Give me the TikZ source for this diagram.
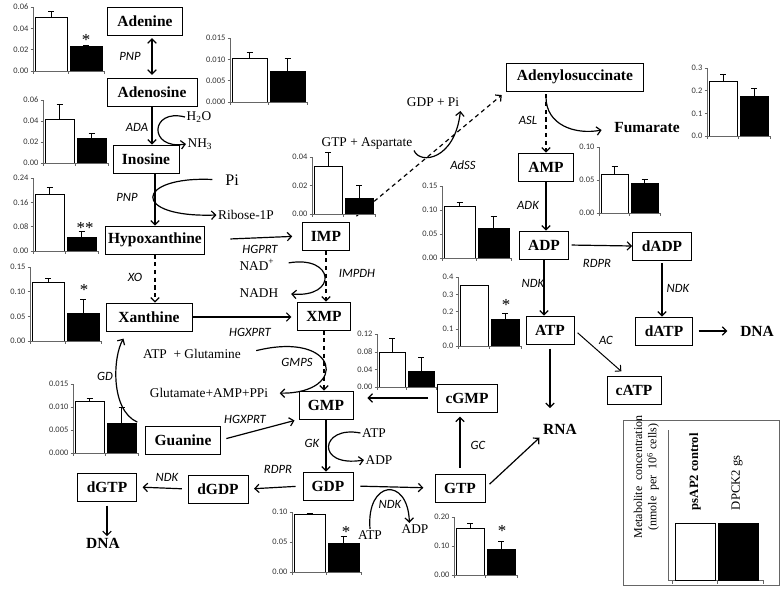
\documentclass[tikz,border=0pt]{standalone}
\usepackage{fontspec}
\setmainfont{Liberation Serif}
\newfontfamily\calfont{Carlito}
\usetikzlibrary{arrows.meta}
\tikzset{
  met/.style={draw, line width=0.6pt, font=\fontsize{11}{12}\selectfont\bfseries,
              minimum height=0.7cm, inner xsep=2pt, inner ysep=0pt},
  wd/.style={minimum width=#1*0.025cm},
  fin/.style={font=\fontsize{11}{12}\selectfont\bfseries, inner sep=1pt},
  enz/.style={font=\calfont\itshape\fontsize{9}{10}\selectfont, inner sep=1pt},
  sub/.style={font=\fontsize{9.5}{11}\selectfont, inner sep=1pt},
  rx/.style={->, line width=0.85pt},
  dashrx/.style={rx, dash pattern=on 3pt off 2.5pt},
  axlab/.style={font=\calfont\fontsize{6}{7}\selectfont, inner sep=1pt, text=black!80},
  sig/.style={font=\fontsize{12}{12}\selectfont, inner sep=0pt},
}
% #1,#2 origin, #3 px per tick, #4 tick labels, #5 bar width,
% #6/#7 white bar and error, #8/#9 black bar and error (in ticks)
\newcommand{\barchart}[9]{%
  \begin{scope}[shift={(#1,#2)}, line width=0.4pt]
    \foreach \lab [count=\i from 0] in {#4}{
      \draw[black!60] (0,0) -- (0,-\i*#3);
      \draw[black!60] (-2.5,-\i*#3) -- (0,-\i*#3);
      \node[axlab, anchor=east] at (-3,-\i*#3) {\lab};
    }
    \draw[fill=white] (2,0) rectangle (2+#5,-#6*#3);
    \draw (2+#5/2,-#6*#3) -- (2+#5/2,-#7*#3) (2+#5/2-3,-#7*#3) -- (2+#5/2+3,-#7*#3);
    \draw[fill=black] (5+#5,0) rectangle (5+2*#5,-#8*#3);
    \draw (5+1.5*#5,-#8*#3) -- (5+1.5*#5,-#9*#3) (5+1.5*#5-3,-#9*#3) -- (5+1.5*#5+3,-#9*#3);
    \draw[black!60] (0,0) -- (7+2*#5,0);
    \foreach \t in {0,3.5+#5,7+2*#5} \draw[black!60] (\t,0) -- (\t,2.5);
  \end{scope}}
\begin{document}
\begin{tikzpicture}[x=0.025cm,y=-0.025cm,>={Straight Barb[length=3pt,width=6pt]}]
\useasboundingbox (0,0) rectangle (784,592);

% metabolites
\node[met, wd=75] (ade) at (145,21) {Adenine};
\node[met, wd=90] (ados) at (152,92) {Adenosine};
\node[met, wd=66] (ino) at (146,159) {Inosine};
\node[met, wd=97] (hyp) at (155,240) {Hypoxanthine};
\node[met, wd=86] (xan) at (149,317) {Xanthine};
\node[met, wd=75] (gua) at (183,440) {Guanine};
\node[met, wd=59] (dgtp) at (107,487) {dGTP};
\node[met, wd=60] (dgdp) at (218,489) {dGDP};
\node[met, wd=47] (imp) at (326,236) {IMP};
\node[met, wd=53] (xmp) at (324,316) {XMP};
\node[met, wd=54] (gmp) at (326,405) {GMP};
\node[met, wd=60] (cgmp) at (467,398) {cGMP};
\node[met, wd=50] (gdp) at (328,486) {GDP};
\node[met, wd=50] (gtp) at (460,488) {GTP};
\node[met, wd=137] (ads) at (575,77) {Adenylosuccinate};
\node[met, wd=55] (amp) at (546,167) {AMP};
\node[met, wd=49] (adp) at (544,245) {ADP};
\node[met, wd=59] (dadp) at (662,246) {dADP};
\node[met, wd=48] (atp) at (550,330) {ATP};
\node[met, wd=57] (datp) at (664,331) {dATP};
\node[met, wd=54] (catp) at (634,390) {cATP};
\node[fin] (rna) at (560,429) {RNA};
\node[fin] (dnal) at (103,543) {DNA};
\node[fin] (dnar) at (757,331) {DNA};
\node[fin] (fum) at (647,128) {Fumarate};

% co-substrates
\node[sub] (h2o) at (199,117) {H\textsubscript{2}O};
\node[sub] (nh3) at (200,144) {NH\textsubscript{3}};
\node[sub, font=\fontsize{11.5}{12}\selectfont] (pi) at (232,180) {Pi};
\node[sub] (rib) at (246,215) {Ribose-1P};
\node[sub] (nad) at (257,265) {NAD\textsuperscript{+}};
\node[sub] (nadh) at (259,293) {NADH};
\node[sub] (gln) at (192,354) {ATP~ + Glutamine};
\node[sub] (glu) at (209,393) {Glutamate+AMP+PPi};
\node[sub] (atpa) at (374,433) {ATP};
\node[sub] (adpa) at (379,460) {ADP};
\node[sub] (atpb) at (370,535) {ATP};
\node[sub] (adpb) at (415,529) {ADP};
\node[sub] (asp) at (367,143) {GTP + Aspartate};
\node[sub] (gdppi) at (433,102) {GDP + Pi};

% enzymes
\node[enz] at (130,56) {PNP};
\node[enz] at (137,127) {ADA};
\node[enz] at (127,197) {PNP};
\node[enz] at (135,277) {XO};
\node[enz] at (260,249) {HGPRT};
\node[enz] at (357,273) {IMPDH};
\node[enz] at (250,332) {HGXPRT};
\node[enz] at (297,362) {GMPS};
\node[enz] at (105,376) {GD};
\node[enz] at (245,419) {HGXPRT};
\node[enz] at (312,443) {GK};
\node[enz] at (278,469) {RDPR};
\node[enz] at (167,477) {NDK};
\node[enz] at (390,504) {NDK};
\node[enz] at (478,445) {GC};
\node[enz] at (463,165) {AdSS};
\node[enz] at (528,120) {ASL};
\node[enz] at (528,205) {ADK};
\node[enz] at (597,263) {RDPR};
\node[enz] at (533,283) {NDK};
\node[enz] at (678,288) {NDK};
\node[enz] at (606,340) {AC};

% main reactions
\draw[rx, <->, shorten <=2pt, shorten >=2pt] (ados.north |- ade.south) -- (ados.north);
\draw[rx] (ados.south) -- (ados.south |- ino.north);
\draw[rx] (hyp.north |- ino.south) -- (hyp.north);
\draw[rx, shorten <=18pt, shorten >=7pt] (hyp.east) -- (imp.west);
\draw[dashrx] (hyp.south) -- (hyp.south |- xan.north);
\draw[dashrx] (imp.south) -- (imp.south |- xmp.north);
\draw[rx, shorten >=4pt] (xan.east) -- (xmp.west |- xan.east);
\draw[dashrx] (xmp.south) -- (xmp.south |- gmp.north);
\draw[rx, shorten <=4pt, shorten >=3pt] (gua.east) -- (gmp.south west);
\draw[rx] (gmp.south) -- (gmp.south |- gdp.north);
\draw[rx, shorten <=5pt, shorten >=4pt] (gdp.west) -- (dgdp.east);
\draw[rx, shorten <=4pt, shorten >=4pt] (dgdp.west) -- (dgtp.east);
\draw[rx, shorten <=3pt] (dgtp.south) -- (dgtp.south |- dnal.north);
\draw[rx, shorten <=5pt, shorten >=8pt] (gdp.east) -- (gtp.west);
\draw[rx, shorten <=4pt, shorten >=3pt] (gtp.north) -- (gtp.north |- cgmp.south);
\draw[rx, shorten <=6pt, shorten >=10pt] (cgmp.west) -- (cgmp.west -| gmp.east);
\draw[rx, shorten <=4pt, shorten >=2pt] (gtp.east) -- (rna.south west);
\draw[dashrx, shorten <=6pt, shorten >=4pt] (imp.north east) -- (ads.south west);
\draw[dashrx, shorten <=2pt] (amp.north |- ads.south) -- (amp.north);
\draw[rx] (amp.south) -- (amp.south |- adp.north);
\draw[rx, shorten <=2pt] (adp.east) -- (dadp.west);
\draw[rx] (adp.south) -- (adp.south |- atp.north);
\draw[rx, shorten <=2pt] (dadp.south) -- (dadp.south |- datp.north);
\draw[rx, shorten <=4pt, shorten >=8pt] (datp.east) -- (dnar.west);
\draw[rx, line width=0.7pt, shorten <=3pt] (atp.east) -- ([xshift=-9pt,yshift=3pt]catp.north);
\draw[rx, shorten <=3pt, shorten >=10pt] (atp.south) -- (atp.south |- rna.north);

% side reactions
\draw[rx] (h2o.west) .. controls (150,108) and (148,150) .. (nh3.west);
\draw[rx, shorten <=8pt] (pi.west) .. controls (135,176) and (130,218) .. (rib.west);
\draw[rx, shorten <=9pt, shorten >=8pt] (nad.east) .. controls (335,255) and (338,298) .. (nadh.east);
\draw[rx, shorten <=10pt, shorten >=7pt] (gln.east) .. controls (340,330) and (349,394) .. (glu.east);
\draw[rx, shorten <=6pt, shorten >=6pt] (gua.north west) .. controls (110,410) and (113,356) .. ([xshift=-15pt]xan.south);
\draw[rx] (atpa.west) .. controls (320,425) and (315,468) .. (adpa.west);
\draw[rx] (atpb.north) .. controls (366,480) and (408,476) .. ([xshift=-4pt]adpb.north);
\draw[rx, shorten >=2pt] (asp.south east) .. controls (420,165) and (455,160) .. (gdppi.south east);
\draw[rx, shorten <=4pt, shorten >=8pt] (amp.north |- ads.south) .. controls (546,125) and (575,135) .. (fum.west);

% bar charts
\barchart{33}{71}{21.3}{0.00,0.02,0.04,0.06}{32}{2.53}{2.82}{1.17}{1.2}
\barchart{230}{102}{21.3}{0.000,0.005,0.010,0.015}{35}{2.07}{2.35}{1.46}{2.07}
\barchart{43}{163}{21}{0.00,0.02,0.04,0.06}{29}{2.1}{2.8}{1.19}{1.43}
\barchart{33}{251}{24.3}{0.00,0.08,0.16,0.24}{29}{2.35}{2.63}{0.58}{0.82}
\barchart{30}{341}{24.7}{0.00,0.05,0.10,0.15}{32}{2.39}{2.55}{1.13}{1.70}
\barchart{73}{453}{23}{0.000,0.005,0.010,0.015}{29}{2.26}{2.39}{1.3}{2.0}
\barchart{312}{214}{28.5}{0.00,0.02,0.04}{28}{1.68}{2.18}{0.56}{1.02}
\barchart{442}{258}{24}{0.00,0.05,0.10,0.15}{31}{2.17}{2.33}{1.25}{1.75}
\barchart{599}{213}{33}{0.00,0.05,0.10}{27}{1.18}{1.42}{0.91}{1.03}
\barchart{707}{136}{22.7}{0.0,0.1,0.2,0.3}{28}{2.42}{2.73}{1.76}{2.11}
\barchart{458}{346}{17.2}{0.0,0.1,0.2,0.3,0.4}{28}{3.55}{3.55}{1.57}{1.92}
\barchart{377}{387}{17.6}{0.00,0.04,0.08,0.12}{26}{1.99}{2.78}{0.91}{1.7}
\barchart{292}{572}{30}{0.00,0.05,0.10}{31}{1.93}{1.95}{0.97}{1.2}
\barchart{454}{575}{29}{0.00,0.10,0.20}{28}{1.62}{1.79}{0.9}{1.17}
\node[sig] at (86,40) {*};
\node[sig] at (85,228) {**};
\node[sig] at (84,290) {*};
\node[sig] at (506,305) {*};
\node[sig] at (346,532) {*};
\node[sig] at (502,531) {*};

% legend
\draw[black!60, line width=0.4pt] (623,420) rectangle (779,585);
\draw[black!60, line width=0.4pt] (668,430) -- (668,580) -- (763,580);
\foreach \t in {672,717,763} \draw[black!60, line width=0.4pt] (\t,580) -- (\t,584);
\draw[line width=0.4pt, fill=white] (675,580) rectangle (715,523);
\draw[line width=0.4pt, fill=black] (718,580) rectangle (758,523);
\node[rotate=90, font=\fontsize{8.5}{10}\selectfont] at (638,477) {Metabolite~ concentration};
\node[rotate=90, font=\fontsize{8.5}{10}\selectfont] at (653,477) {(nmole~ per~ 10\textsuperscript{6} cells)};
\node[rotate=90, anchor=west, font=\fontsize{9}{10}\selectfont\bfseries] at (695,515) {psAP2 control};
\node[rotate=90, anchor=west, font=\fontsize{9}{10}\selectfont] at (737,515) {DPCK2 gs};
\end{tikzpicture}
\end{document}
